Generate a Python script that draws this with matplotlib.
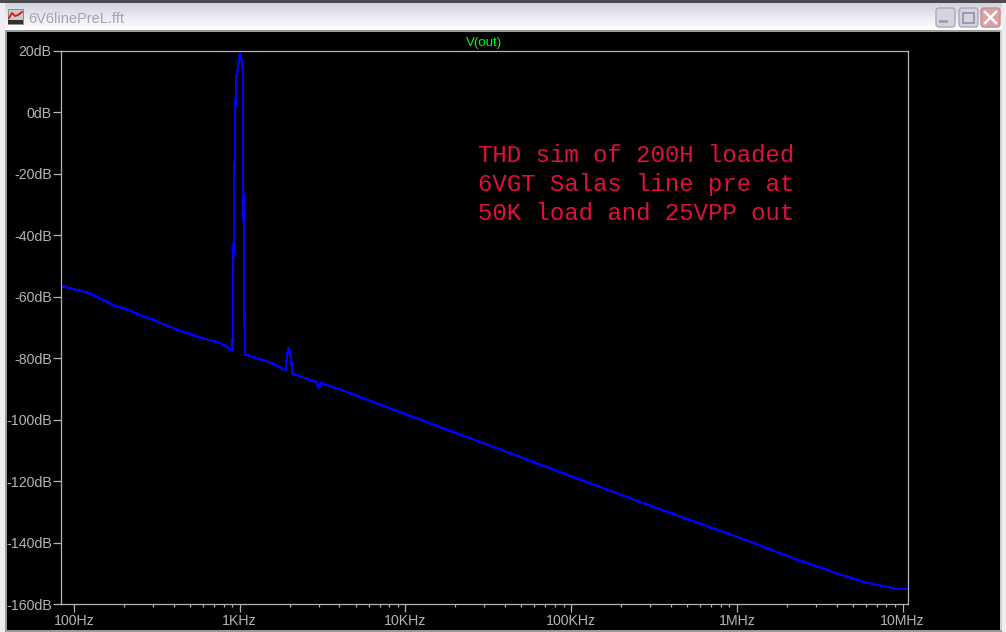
import numpy as np
import matplotlib
matplotlib.use("Agg")
import matplotlib.pyplot as plt
from matplotlib.patches import Rectangle, FancyBboxPatch
from matplotlib.ticker import FixedLocator, NullFormatter

W, H = 1006, 632
freq_hz = [84, 124, 142, 176, 202, 232, 266, 306, 351, 433, 572, 757, 905,
           909, 923, 937, 950, 971, 992, 1006, 1020, 1034, 1045, 1048, 1062, 1076,
           1082, 1516, 1893, 1920, 1947, 1974, 2002, 2044, 2072, 2086,
           2643, 2913, 2995, 3079, 3955,
           10000, 30000, 100000, 300000, 1000000, 2000000, 4000000, 6000000, 9000000, 10700000]
level_db = [-56.5, -58.8, -60.4, -63, -63.8, -65.1, -66.6, -67.7, -69.1, -71, -73.2, -75, -77.4,
            -63, -34, -5, 10.9, 13.8, 17.8, 19, 17.8, 16, 13.8, -10, -55.5, -78.6,
            -78.8, -81.3, -84, -80.3, -78, -76.5, -78, -80.3, -84.5, -85,
            -87, -87.8, -89.7, -88.1, -90,
            -98.2, -107.8, -118.4, -128, -138.1, -144.3, -150, -153, -155, -155.2]
y_ticks = list(range(-160, 21, 20))
y_labels = [f"{v}dB" for v in y_ticks]
x_ticks = [100, 1e3, 1e4, 1e5, 1e6, 1e7]
x_labels = ["100Hz", "1KHz", "10KHz", "100KHz", "1MHz", "10MHz"]
note_lines = ["THD sim of 200H loaded", "6VGT Salas line pre at", "50K load and 25VPP out"]
window_title = "6V6linePreL.fft"
trace_name = "V(out)"

GREY = "#b4b4b4"
fig = plt.figure(figsize=(W / 100, H / 100), dpi=100, facecolor="black")

# window chrome, in pixel coordinates
bg = fig.add_axes([0, 0, 1, 1], zorder=0)
bg.set_xlim(0, W); bg.set_ylim(H, 0); bg.axis("off")
bg.add_patch(Rectangle((0, 0), W, H, fc="black", ec="none"))
grad = np.linspace(0, 1, 27)[:, None, None] * np.array([[[1.0, 1.0, 1.0]]]) \
    + (1 - np.linspace(0, 1, 27))[:, None, None] * np.array([[[0.83, 0.83, 0.88]]])
bg.imshow(grad, extent=(0, W, 30, 3), aspect="auto", zorder=1, interpolation="bilinear")
bg.set_xlim(0, W); bg.set_ylim(H, 0)
bg.add_patch(Rectangle((0, 0), W, 3, fc="#4a4a50", ec="none", zorder=2))
bg.add_patch(Rectangle((0, 30), W, 2, fc="#9a9a9a", ec="none", zorder=2))
bg.add_patch(Rectangle((0, 3), 5, H, fc="#eeeef2", ec="none", zorder=2))
bg.add_patch(Rectangle((5, 30), 2, H, fc="#9a9a9a", ec="none", zorder=2))
bg.add_patch(Rectangle((1002, 3), 4, H, fc="#eeeef2", ec="none", zorder=2))
bg.add_patch(Rectangle((1000, 30), 2, H, fc="#d0d0d0", ec="none", zorder=2))
bg.add_patch(Rectangle((5, 630), 997, 2, fc="#9a9a9a", ec="none", zorder=2))
# icon
bg.add_patch(Rectangle((8, 9), 15, 15, fc="#c8c8c8", ec="#808080", lw=0.6, zorder=3))
bg.add_patch(Rectangle((8, 20), 15, 4, fc="#303030", ec="none", zorder=3))
bg.plot([9, 12, 15, 18, 22], [18, 13, 16, 15, 12], color="#e01010", lw=1.3, zorder=4)
bg.text(28, 23, window_title, color="#a4a4ac", fontsize=10.5, family="Liberation Sans",
        va="baseline", ha="left", zorder=4)
for x0, fc, ec in [(934, "#d4d4e0", "#a8a8b8"), (957, "#d4d4e0", "#a8a8b8"), (979, "#e0a0a0", "#c09090")]:
    bg.add_patch(FancyBboxPatch((x0 + 2, 8), 19, 19, boxstyle="round,pad=0,rounding_size=3",
                                fc=fc, ec=ec, lw=1, mutation_aspect=1, zorder=3))
bg.add_patch(Rectangle((939, 20), 9, 3, fc="#a0a0a8", ec="none", zorder=4))
bg.add_patch(Rectangle((963, 13), 11, 10, fc="none", ec="#9090a0", lw=1.2, zorder=4))
bg.plot([985, 996], [12, 23], color="white", lw=1.8, zorder=4)
bg.plot([985, 996], [23, 12], color="white", lw=1.8, zorder=4)

# plot area
L, R, T, B = 61.0, 908.0, 51.0, 604.0
ax = fig.add_axes([L / W, 1 - B / H, (R - L) / W, (B - T) / H], zorder=2, facecolor="black")
ax.set_xscale("log")
ax.set_xlim(83.5, 1.079e7)
ax.set_ylim(-160, 20)
ax.plot(freq_hz, level_db, color="#0000ff", lw=0.85, antialiased=False, solid_joinstyle="miter")
for s in ax.spines.values():
    s.set_color(GREY); s.set_linewidth(0.9)
ax.set_yticks(y_ticks); ax.set_yticklabels(y_labels)
ax.xaxis.set_major_locator(FixedLocator(x_ticks))
ax.set_xticklabels(x_labels)
minor = [m * 10.0 ** e for e in range(2, 7) for m in range(2, 10)]
ax.xaxis.set_minor_locator(FixedLocator(minor))
ax.xaxis.set_minor_formatter(NullFormatter())
ax.tick_params(axis="y", which="major", length=5.5, width=0.9, color=GREY, labelcolor=GREY,
               labelsize=10.2, pad=1.2)
ax.tick_params(axis="x", which="major", length=5.5, width=0.9, color=GREY, labelcolor=GREY,
               labelsize=10.2, pad=1.7)
ax.tick_params(axis="x", which="minor", length=2.5, width=0.9, color=GREY)
for t in ax.get_xticklabels() + ax.get_yticklabels():
    t.set_family("Liberation Sans")

fig.text(484 / W, 1 - 46 / H, trace_name, color="#00ff00", fontsize=9.5, ha="center",
         va="baseline", family="Liberation Sans", zorder=5)
for line, yb in zip(note_lines, [162, 191, 220]):
    fig.text(477.5 / W, 1 - yb / H, line, color="#e0103c", fontsize=17.3, ha="left",
             va="baseline", family="Liberation Mono", zorder=5)

fig.savefig("out.png", dpi=100, facecolor="black")
